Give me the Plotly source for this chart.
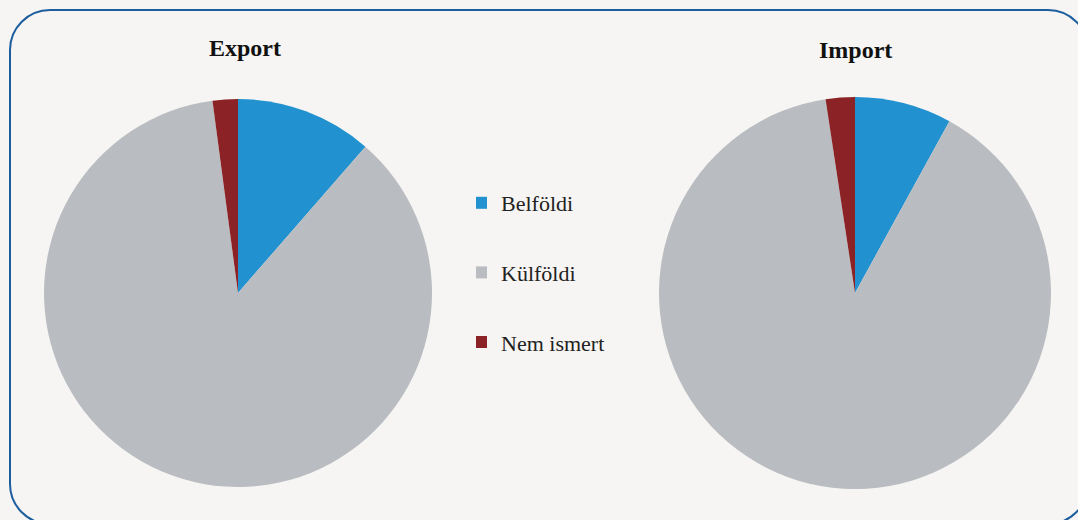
import plotly.graph_objects as go

labels = ["Belföldi", "Külföldi", "Nem ismert"]
export_vals = [11.4, 86.5, 2.1]
import_vals = [8.0, 89.6, 2.4]
colors = ["#2191d0", "#b9bdc1", "#8b2226"]
titles = ["Export", "Import"]

W, H = 1078, 520
FONT = "Liberation Serif, Times New Roman, serif"
BG = "#f6f5f3"

fig = go.Figure()

def dom(cx, cy, r):
    return dict(x=[(cx - r) / W, (cx + r) / W], y=[(H - cy - r) / H, (H - cy + r) / H])

fig.add_trace(go.Pie(labels=labels, values=export_vals, sort=False, direction="clockwise",
                     rotation=0, marker=dict(colors=colors, line=dict(width=0)),
                     textinfo="none", hoverinfo="label+percent", showlegend=False,
                     domain=dom(238, 293, 194)))
fig.add_trace(go.Pie(labels=labels, values=import_vals, sort=False, direction="clockwise",
                     rotation=0, marker=dict(colors=colors, line=dict(width=0)),
                     textinfo="none", hoverinfo="label+percent", showlegend=False,
                     domain=dom(855, 293, 196)))

# legend entries
for i, (lab, col) in enumerate(zip(labels, colors)):
    fig.add_trace(go.Scatter(x=[None], y=[None], mode="markers", name=lab,
                             legendgroup=str(i),
                             marker=dict(symbol="square", size=12, color=col)))

for t, cx, cy in zip(titles, [245, 855], [48, 50]):
    fig.add_annotation(x=cx / W, y=1 - cy / H, xref="paper", yref="paper", text="<b>%s</b>" % t,
                       showarrow=False, xanchor="center", yanchor="middle",
                       font=dict(family=FONT, size=24, color="#111"))

# rounded border
x0, x1, y0, y1, r = 10, 1088, 10, 524, 40
k = 0.552 * r
def px(x): return x / W
def py(y): return 1 - y / H
path = (
    f"M {px(x0)},{py(y0 + r)} "
    f"C {px(x0)},{py(y0 + r - k)} {px(x0 + r - k)},{py(y0)} {px(x0 + r)},{py(y0)} "
    f"L {px(x1 - r)},{py(y0)} "
    f"C {px(x1 - r + k)},{py(y0)} {px(x1)},{py(y0 + r - k)} {px(x1)},{py(y0 + r)} "
    f"L {px(x1)},{py(y1 - r)} "
    f"C {px(x1)},{py(y1 - r + k)} {px(x1 - r + k)},{py(y1)} {px(x1 - r)},{py(y1)} "
    f"L {px(x0 + r)},{py(y1)} "
    f"C {px(x0 + r - k)},{py(y1)} {px(x0)},{py(y1 - r + k)} {px(x0)},{py(y1 - r)} Z"
)
fig.add_shape(type="path", xref="paper", yref="paper", path=path,
              line=dict(color="#1d5e9e", width=2))

fig.update_layout(
    width=W, height=H,
    margin=dict(l=0, r=0, t=0, b=0),
    paper_bgcolor=BG, plot_bgcolor=BG,
    xaxis=dict(visible=False), yaxis=dict(visible=False),
    legend=dict(x=476 / W, y=1 - 182 / H, xanchor="left", yanchor="top",
                font=dict(family=FONT, size=22, color="#222"),
                tracegroupgap=38, bgcolor="rgba(0,0,0,0)", itemwidth=30,
                indentation=-15),
)

fig.write_html("out.html", config={"displayModeBar": False},
               post_script="document.body.style.margin='0';document.body.style.background='%s';" % BG)
